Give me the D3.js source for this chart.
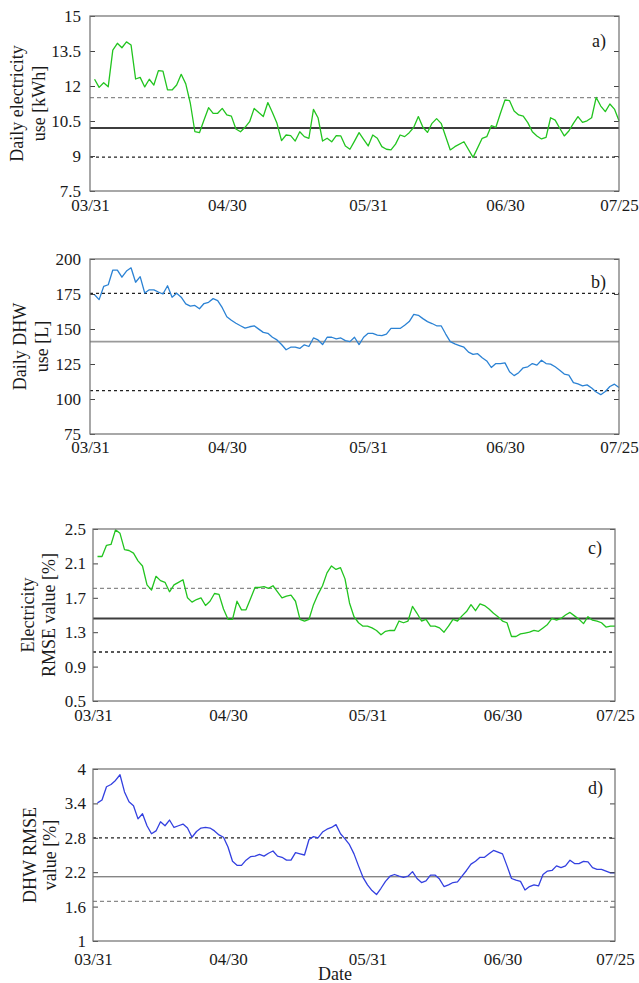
<!DOCTYPE html>
<html>
<head>
<meta charset="utf-8">
<script src="https://cdn.jsdelivr.net/npm/d3@7"></script>
<style>
  body { margin: 0; background: #fff; }
  svg { display: block; }
  text { font-family: "Liberation Serif", "Times New Roman", serif; fill: #1a1a1a; }
</style>
</head>
<body>
<svg id="chart" width="639" height="983"></svg>
<script>
//------------------------------- DATA ----------------------------------------
// day offsets counted from 03/31
var tickLabels = ["03/31", "04/30", "05/31", "06/30", "07/25"];
var allDays = d3.range(1, 117);

// a) daily electricity use [kWh]  (no visible vertex on days 78, 81, 83, 85)
var elecUseDays = allDays.filter(function(d) { return [78, 81, 83, 85].indexOf(d) < 0; });
var elecUse = [
  12.29, 11.94, 12.14, 11.97, 13.54, 13.83, 13.64, 13.89, 13.76, 12.3,
  12.37, 11.96, 12.29, 12.04, 12.66, 12.64, 11.83, 11.83, 12.04, 12.5,
  12.09, 11.26, 10.04, 10.0, 10.54, 11.07, 10.83, 10.83, 11.04, 10.76,
  10.71, 10.16, 10.04, 10.23, 10.47, 11.04, 10.86, 10.69, 11.29, 10.86,
  10.4, 9.66, 9.9, 9.87, 9.64, 10.04, 9.83, 9.76, 11.0, 10.64,
  9.64, 9.76, 9.61, 9.87, 9.86, 9.43, 9.29, 9.64, 10.0, 9.71,
  9.43, 9.9, 9.76, 9.4, 9.29, 9.26, 9.51, 9.9, 9.83, 10.0,
  10.23, 10.69, 10.23, 10.01, 10.4, 10.6, 10.4,
  9.26, 9.4, 9.61, 8.94,
  9.76, 9.83, 10.3, 10.23, 10.83, 11.4, 11.37, 10.93, 10.76, 10.71,
  10.43, 10.04, 9.86, 9.73, 9.8, 10.64, 10.54, 10.19, 9.86, 10.07,
  10.4, 10.69, 10.44, 10.51, 10.64, 11.51, 11.14, 10.9, 11.23, 11.01, 10.51
];
var elecUseRefs = [11.5, 10.2, 8.95];   // upper, mean, lower

// b) daily DHW use [L]
var dhwUse = [
  174.5, 171, 180.4, 181.6, 192.1, 192.1, 187, 191.4, 193.7, 183.4,
  187.4, 175.7, 178, 178, 176.4, 175, 180.9, 172.7, 175.5, 172.7,
  168, 166.3, 166.8, 164.5, 168.2, 169.1, 171.7, 170.3, 165.2, 158.8,
  156.3, 154.1, 152.3, 150.6, 151.6, 152.3, 149.9, 147.6, 146.9, 144.1,
  142.2, 138.9, 135.2, 137, 137, 136.1, 138.7, 137.5, 143.6, 142.2,
  138.9, 144.1, 144.1, 142.9, 143.6, 141.7, 141, 144.1, 138.9, 144.1,
  146.9, 146.9, 145.7, 145.2, 146.4, 150.4, 150.4, 150.4, 152.7, 155.3,
  160.5, 159.8, 157.4, 155.3, 153.9, 152.3, 152.3, 146.4, 141, 139.4,
  138.2, 137, 133.5, 131.9, 132.4, 129.5, 127.2, 122.5, 125.3, 125.3,
  125.8, 119.5, 116.7, 118.8, 122.3, 123, 125.3, 124.2, 127.7, 125.3,
  124.9, 123, 120.6, 117.8, 117.1, 111.7, 110.8, 109.4, 110.1, 107.8,
  105, 103.1, 105.4, 108.9, 110.6, 108.2
];
var dhwUseRefs = [175.5, 141, 106];

// c) electricity RMSE value [%]
var elecRmse = [
  2.18, 2.18, 2.31, 2.32, 2.49, 2.45, 2.26, 2.25, 2.22, 2.13,
  2.07, 1.85, 1.79, 1.95, 1.9, 1.88, 1.77, 1.85, 1.88, 1.91,
  1.7, 1.65, 1.68, 1.7, 1.61, 1.66, 1.75, 1.74, 1.57, 1.45,
  1.45, 1.66, 1.56, 1.56, 1.69, 1.82, 1.82, 1.83, 1.81, 1.84,
  1.77, 1.7, 1.72, 1.73, 1.66, 1.45, 1.43, 1.45, 1.62, 1.74,
  1.84, 1.99, 2.07, 2.03, 2.05, 1.92, 1.64, 1.48, 1.41, 1.37,
  1.37, 1.35, 1.32, 1.27, 1.31, 1.32, 1.32, 1.43, 1.41, 1.43,
  1.6, 1.52, 1.43, 1.45, 1.37, 1.37, 1.35, 1.3, 1.37, 1.45,
  1.43, 1.49, 1.54, 1.62, 1.55, 1.63, 1.61, 1.57, 1.52, 1.48,
  1.43, 1.41, 1.25, 1.25, 1.28, 1.29, 1.3, 1.32, 1.31, 1.35,
  1.39, 1.46, 1.44, 1.46, 1.5, 1.53, 1.49, 1.45, 1.4, 1.48,
  1.44, 1.43, 1.41, 1.36, 1.37, 1.37
];
var elecRmseRefs = [1.81, 1.46, 1.07];

// d) DHW RMSE value [%]
var dhwRmse = [
  3.41, 3.46, 3.69, 3.73, 3.8, 3.9, 3.6, 3.43, 3.36, 3.13,
  3.22, 3.01, 2.87, 2.92, 3.08, 3.01, 3.11, 2.98, 3.01, 3.04,
  2.97, 2.81, 2.91, 2.97, 2.98, 2.97, 2.92, 2.85, 2.81, 2.64,
  2.39, 2.32, 2.32, 2.41, 2.47, 2.48, 2.51, 2.48, 2.53, 2.57,
  2.48, 2.46, 2.41, 2.41, 2.54, 2.52, 2.5, 2.77, 2.82, 2.8,
  2.9, 2.95, 2.98, 3.03, 2.87, 2.78, 2.68, 2.52, 2.31, 2.11,
  1.98, 1.88, 1.81, 1.92, 2.04, 2.13, 2.16, 2.13, 2.11, 2.13,
  2.21, 2.09, 2.02, 2.05, 2.15, 2.15, 2.08, 1.95, 1.98, 2.02,
  2.03, 2.13, 2.23, 2.34, 2.39, 2.46, 2.46, 2.52, 2.58, 2.55,
  2.52, 2.31, 2.09, 2.06, 2.04, 1.89, 1.95, 1.98, 1.96, 2.16,
  2.22, 2.23, 2.31, 2.28, 2.31, 2.41, 2.35, 2.35, 2.39, 2.38,
  2.28, 2.25, 2.25, 2.22, 2.19, 2.19
];
var dhwRmseRefs = [2.80, 2.12, 1.69];

//------------------------------ SET-UP ---------------------------------------
var start = new Date(2019, 2, 31);
function dayToDate(d) { return d3.timeDay.offset(start, d); }
var parseTick = d3.timeParse("%m/%d/%Y");
var tickDates = tickLabels.map(function(s) { return parseTick(s + "/2019"); });
var fmt = d3.timeFormat("%m/%d");

var svg = d3.select("#chart");

var panels = [
  { tag: "a)", days: elecUseDays, values: elecUse, refs: elecUseRefs, color: "#22c41f",
    domain: [7.5, 15], ticks: [7.5, 9, 10.5, 12, 13.5, 15], fmt: function(v) { return v; },
    box: { left: 90, right: 619, top: 16, bottom: 191 }, xPad: 8, yPad: 9,
    title: ["Daily electricity", "use [kWh]"], titleX: [23, 45], tagY: 31, tagX: 606,
    refStyle: [{ c: "#8a8a8a", w: 1.3, dash: "4,3" }, { c: "#3d3d3d", w: 2, dash: null }, { c: "#222", w: 1.3, dash: "3,3" }] },
  { tag: "b)", days: allDays, values: dhwUse, refs: dhwUseRefs, color: "#2b82d4",
    domain: [75, 200], ticks: [75, 100, 125, 150, 175, 200], fmt: function(v) { return v; },
    box: { left: 90, right: 619, top: 259, bottom: 434 }, xPad: 7, yPad: 9,
    title: ["Daily DHW", "use [L]"], titleX: [26, 48], tagY: 29, tagX: 606,
    refStyle: [{ c: "#222", w: 1.3, dash: "3,3" }, { c: "#9a9a9a", w: 1.6, dash: null }, { c: "#222", w: 1.3, dash: "3,3" }] },
  { tag: "c)", days: allDays, values: elecRmse, refs: elecRmseRefs, color: "#22c41f",
    domain: [0.5, 2.5], ticks: [0.5, 0.9, 1.3, 1.7, 2.1, 2.5], fmt: d3.format(".1f"),
    box: { left: 93, right: 615, top: 529, bottom: 701 }, xPad: 8, yPad: 7,
    title: ["Electricity", "RMSE value [%]"], titleX: [34, 55], tagY: 25, tagX: 602,
    refStyle: [{ c: "#8a8a8a", w: 1.3, dash: "4,3" }, { c: "#3d3d3d", w: 2, dash: null }, { c: "#222", w: 1.3, dash: "3,3" }] },
  { tag: "d)", days: allDays, values: dhwRmse, refs: dhwRmseRefs, color: "#3340e0",
    domain: [1, 4], ticks: [1, 1.6, 2.2, 2.8, 3.4, 4], fmt: function(v) { return v; },
    box: { left: 93, right: 615, top: 769, bottom: 941 }, xPad: 12, yPad: 7,
    title: ["DHW RMSE", "value [%]"], titleX: [36, 56], tagY: 25, tagX: 603,
    refStyle: [{ c: "#222", w: 1.3, dash: "3,3" }, { c: "#555", w: 1, dash: null }, { c: "#8a8a8a", w: 1.3, dash: "4,3" }] }
];

//------------------------------ DRAW PANELS ----------------------------------
panels.forEach(function(p) {
  var b = p.box;
  var x = d3.scaleTime().domain([start, dayToDate(116)]).range([b.left, b.right]);
  var y = d3.scaleLinear().domain(p.domain).range([b.bottom, b.top]);
  var g = svg.append("g");

  // reference lines (upper / mean / lower)
  g.selectAll("line.ref")
    .data(p.refs)
    .enter()
    .append("line")
    .attr("class", "ref")
    .attr("x1", b.left).attr("x2", b.right)
    .attr("y1", function(d) { return y(d); })
    .attr("y2", function(d) { return y(d); })
    .attr("stroke", function(d, i) { return p.refStyle[i].c; })
    .attr("stroke-width", function(d, i) { return p.refStyle[i].w; })
    .attr("stroke-dasharray", function(d, i) { return p.refStyle[i].dash; });

  // series line
  var pts = p.days.map(function(d, i) { return [dayToDate(d), p.values[i]]; });
  g.append("path")
    .datum(pts)
    .attr("fill", "none")
    .attr("stroke", p.color)
    .attr("stroke-width", 1.3)
    .attr("stroke-linejoin", "round")
    .attr("d", d3.line()
      .x(function(d) { return x(d[0]); })
      .y(function(d) { return y(d[1]); }));

  // left axis with inward ticks
  var yAxisL = g.append("g")
    .attr("transform", "translate(" + b.left + ",0)")
    .call(d3.axisLeft(y).tickValues(p.ticks).tickFormat(p.fmt).tickSize(-5).tickPadding(p.yPad));
  yAxisL.select(".domain").remove();
  yAxisL.selectAll("line").attr("stroke", "#444");
  yAxisL.selectAll("text").style("font-size", "17px").attr("fill", "#1a1a1a");

  // right axis, ticks only
  var yAxisR = g.append("g")
    .attr("transform", "translate(" + b.right + ",0)")
    .call(d3.axisRight(y).tickValues(p.ticks).tickSize(-5).tickFormat(""));
  yAxisR.select(".domain").remove();
  yAxisR.selectAll("line").attr("stroke", "#444");

  // bottom axis labels
  var xAxis = g.append("g")
    .attr("transform", "translate(0," + b.bottom + ")")
    .call(d3.axisBottom(x).tickValues(tickDates).tickFormat(fmt).tickSize(0).tickPadding(p.xPad));
  xAxis.select(".domain").remove();
  xAxis.selectAll("text").style("font-size", "17px").attr("fill", "#1a1a1a");

  // frame
  g.append("rect")
    .attr("x", b.left).attr("y", b.top)
    .attr("width", b.right - b.left).attr("height", b.bottom - b.top)
    .attr("fill", "none").attr("stroke", "#6e6e6e").attr("stroke-width", 1.2);

  // panel tag
  g.append("text")
    .attr("x", p.tagX).attr("y", b.top + p.tagY)
    .attr("text-anchor", "end")
    .style("font-size", "18px")
    .text(p.tag);

  // two-line y title
  var cy = (b.top + b.bottom) / 2;
  p.title.forEach(function(t, i) {
    g.append("text")
      .attr("transform", "translate(" + p.titleX[i] + "," + cy + ") rotate(-90)")
      .attr("text-anchor", "middle")
      .style("font-size", "18px")
      .text(t);
  });
});

svg.append("text")
  .attr("x", 335).attr("y", 980)
  .attr("text-anchor", "middle")
  .style("font-size", "18px")
  .text("Date");
</script>
</body>
</html>
